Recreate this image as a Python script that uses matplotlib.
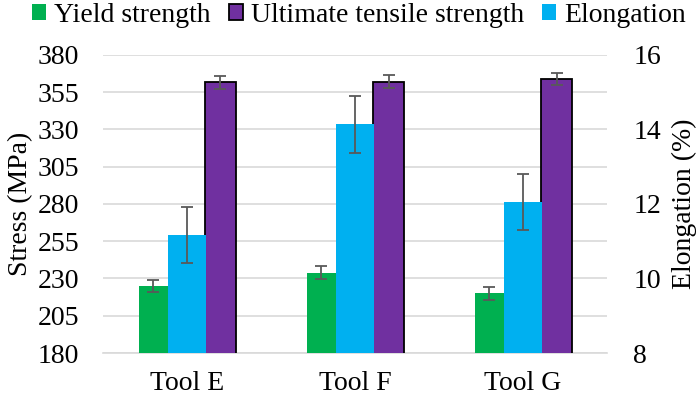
import matplotlib
matplotlib.use("Agg")
import matplotlib.pyplot as plt
from matplotlib.patches import Patch
import numpy as np

plt.rcParams['font.family'] = ['Liberation Serif', 'DejaVu Serif']

tools = ["Tool E", "Tool F", "Tool G"]
yield_strength = [225.0, 233.9, 220.0]
yield_err = [4.3, 4.5, 4.3]
uts = [361.7, 362.1, 363.7]
uts_err = [4.3, 4.3, 4.2]
elongation = [11.17, 14.14, 12.06]
elong_err = [0.76, 0.76, 0.75]

green = "#00B050"
purple = "#7030A0"
blue = "#00B0F0"
errc = "#595959"
gridc = "#d9d9d9"
fs = 20

fig = plt.figure(figsize=(7.0, 4.01), dpi=100)
ax = fig.add_axes([0.147, 0.1197, 0.72, 0.7433])
ax2 = ax.twinx()

x = np.arange(len(tools))
ekw = dict(ecolor=errc, elinewidth=1.3, capsize=4.5, capthick=1.3)

ax.bar(x - 0.2, yield_strength, width=0.175, color=green, yerr=yield_err,
       error_kw=ekw, zorder=3)
ax.bar(x + 0.2, uts, width=0.18, color=purple, edgecolor="black", linewidth=1.3,
       yerr=uts_err, error_kw=ekw, zorder=3)
ax2.bar(x, elongation, width=0.23, color=blue, yerr=elong_err,
        error_kw=ekw, zorder=3)

ax.set_xlim(-0.5, 2.5)
ax.set_ylim(180, 380)
ax.set_yticks(np.arange(180, 381, 25))
ax2.set_ylim(8, 16)
ax2.set_yticks([8, 10, 12, 14, 16])

ax.set_xticks(x)
ax.set_xticklabels(tools)
ax.yaxis.grid(True, color=gridc, linewidth=1.2, zorder=0)
ax.set_axisbelow(True)

for a in (ax, ax2):
    for s in ("top", "left", "right", "bottom"):
        a.spines[s].set_visible(False)
ax.spines["bottom"].set_visible(True)
ax.spines["bottom"].set_color(gridc)
ax.spines["bottom"].set_linewidth(1.2)

ax.tick_params(axis="y", length=0, labelsize=fs, pad=17)
ax.tick_params(axis="x", length=0, labelsize=fs, pad=13)
ax2.tick_params(axis="y", length=0, labelsize=fs, pad=19)

ax.set_ylabel("Stress (MPa)", fontsize=fs, labelpad=3)
ax2.set_ylabel("Elongation (%)", fontsize=fs, rotation=90, labelpad=8)

handles = [Patch(facecolor=green, edgecolor="none"),
           Patch(facecolor=purple, edgecolor="black", linewidth=1.3),
           Patch(facecolor=blue, edgecolor="none")]
labels = ["Yield strength", "Ultimate tensile strength", "Elongation"]
fig.legend(handles, labels, loc="upper center", bbox_to_anchor=(0.513, 1.035),
           ncol=3, frameon=False, fontsize=fs, handlelength=0.5,
           handleheight=0.5, handletextpad=0.3, columnspacing=0.65,
           borderaxespad=0.2)

fig.savefig("out.png", dpi=100)
